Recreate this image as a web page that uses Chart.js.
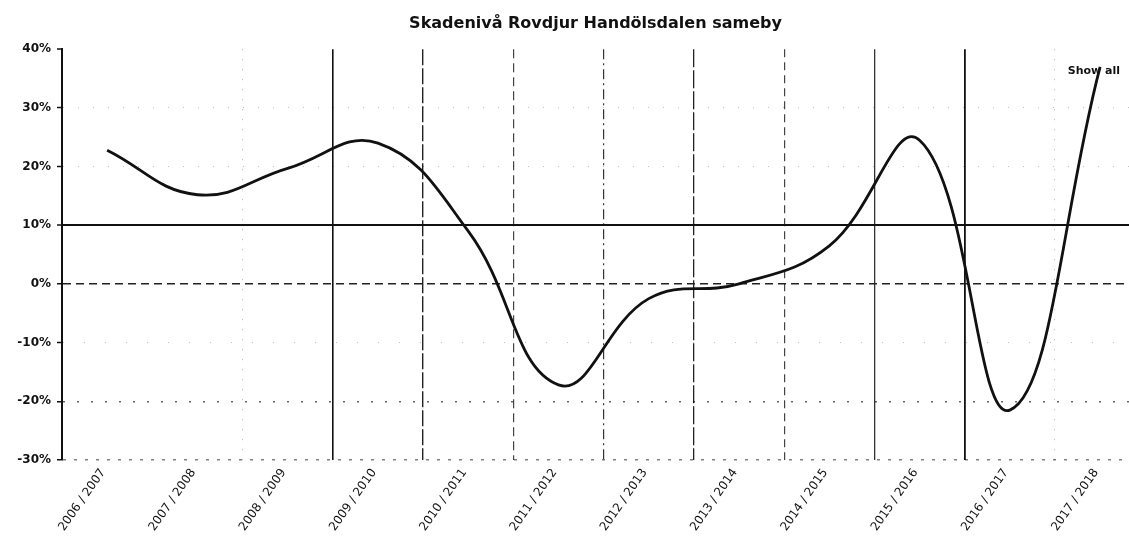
<!DOCTYPE html>
<html>
<head>
<meta charset="utf-8">
<script src="https://cdn.jsdelivr.net/npm/chart.js@4"></script>
<style>
    html, body { margin: 0; padding: 0; background: #fff; }
    #wrap { width: 1129px; height: 539px; }
</style>
</head>
<body>
<div id="wrap"><canvas id="lineChart"></canvas></div>
<script>
// Stagioni (categorie asse x)
var seasons = ["2006 / 2007", "2007 / 2008", "2008 / 2009", "2009 / 2010", "2010 / 2011", "2011 / 2012",
    "2012 / 2013", "2013 / 2014", "2014 / 2015", "2015 / 2016", "2016 / 2017", "2017 / 2018"];

// Skadenivå per stagione (%)
var damageLevel = [22.8, 15.2, 19.7, 24, 9, -17.2, -2.5, 0, 6.5, 24.5, -21.5, 37];

// Tick asse y (%)
var yTicks = [-30, -20, -10, 0, 10, 20, 30, 40];

var font = "'DejaVu Sans', Verdana, sans-serif";

// Stile delle linee verticali (confini tra le stagioni)
var xGridStyle = {
    '1.5': { color: 'rgba(0,0,0,0.3)', width: 1, dash: [1, 9] },
    '2.5': { color: '#111', width: 1.6, dash: [] },
    '3.5': { color: '#222', width: 1.4, dash: [16, 3] },
    '4.5': { color: '#444', width: 1.2, dash: [9, 5] },
    '5.5': { color: '#333', width: 1.2, dash: [10, 4, 2, 4] },
    '6.5': { color: '#222', width: 1.3, dash: [18, 3] },
    '7.5': { color: '#444', width: 1.2, dash: [8, 5] },
    '8.5': { color: '#333', width: 1.3, dash: [] },
    '9.5': { color: '#111', width: 1.8, dash: [] },
    '10.5': { color: 'rgba(0,0,0,0.3)', width: 1, dash: [1, 9] }
};

// Stile delle linee orizzontali
var yGridStyle = {
    '30': { color: 'rgba(0,0,0,0.25)', width: 1, dash: [1, 14] },
    '20': { color: 'rgba(0,0,0,0.25)', width: 1, dash: [1, 14] },
    '10': { color: '#111', width: 2, dash: [] },
    '0': { color: '#222', width: 1.5, dash: [8, 5] },
    '-10': { color: 'rgba(0,0,0,0.25)', width: 1, dash: [1, 20] },
    '-20': { color: 'rgba(0,0,0,0.6)', width: 1.5, dash: [2, 12] },
    '-30': { color: 'rgba(0,0,0,0.5)', width: 1.5, dash: [3, 8] }
};

function styleOf(table, ctx) {
    if (!ctx || !ctx.tick) return null;
    return table[String(ctx.tick.value)] || null;
}

// Testo "Show all" in alto a destra
var showAllPlugin = {
    id: 'showAll',
    afterDraw: function (chart) {
        var c = chart.ctx;
        c.save();
        c.font = "bold 11px " + font;
        c.fillStyle = '#111';
        c.textAlign = 'right';
        c.textBaseline = 'middle';
        c.fillText('Show all', chart.chartArea.right - 9, chart.chartArea.top + 22);
        c.restore();
    }
};

var ctx = document.getElementById('lineChart').getContext('2d');

new Chart(ctx, {
    type: 'line',
    data: {
        datasets: [{
            label: 'Skadenivå',
            data: damageLevel.map(function (v, i) { return { x: i, y: v }; }),
            borderColor: '#111',
            borderWidth: 2.8,
            tension: 0.42,
            pointRadius: 0,
            fill: false
        }]
    },
    options: {
        responsive: true,
        maintainAspectRatio: false,
        animation: false,
        layout: { padding: 0 },
        plugins: {
            legend: { display: false },
            tooltip: { enabled: false },
            title: {
                display: true,
                text: 'Skadenivå Rovdjur Handölsdalen sameby',
                fullSize: false,
                color: '#111',
                font: { family: font, size: 16, weight: 'bold' },
                padding: { top: 14, bottom: 16 }
            }
        },
        scales: {
            x: {
                type: 'linear',
                min: -0.5,
                max: 11.32,
                afterBuildTicks: function (axis) {
                    var t = [];
                    for (var i = 0; i < seasons.length; i++) {
                        t.push({ value: i });
                        if (i < seasons.length - 1) t.push({ value: i + 0.5 });
                    }
                    axis.ticks = t;
                },
                afterFit: function (axis) { axis.height = 79; },
                ticks: {
                    autoSkip: false,
                    minRotation: 55,
                    maxRotation: 55,
                    padding: 6,
                    labelOffset: -4,
                    color: '#111',
                    font: { family: font, size: 12 },
                    callback: function (value) {
                        return Number.isInteger(value) ? seasons[value] : '';
                    }
                },
                grid: {
                    drawTicks: false,
                    color: function (c) { var s = styleOf(xGridStyle, c); return s ? s.color : 'rgba(0,0,0,0)'; },
                    lineWidth: function (c) { var s = styleOf(xGridStyle, c); return s ? s.width : 0; }
                },
                border: {
                    display: false,
                    dash: function (c) { var s = styleOf(xGridStyle, c); return s ? s.dash : []; }
                }
            },
            y: {
                min: -30,
                max: 40,
                afterBuildTicks: function (axis) {
                    axis.ticks = yTicks.map(function (v) { return { value: v }; });
                },
                afterFit: function (axis) { axis.width = 62; },
                ticks: {
                    padding: 6,
                    color: '#111',
                    font: { family: font, size: 12, weight: 'bold' },
                    callback: function (value) { return value + '%'; }
                },
                grid: {
                    tickLength: 5,
                    tickColor: '#111',
                    tickWidth: 1.5,
                    color: function (c) { var s = styleOf(yGridStyle, c); return s ? s.color : 'rgba(0,0,0,0)'; },
                    lineWidth: function (c) { var s = styleOf(yGridStyle, c); return s ? s.width : 0; }
                },
                border: {
                    color: '#111',
                    width: 2,
                    dash: function (c) { var s = styleOf(yGridStyle, c); return s ? s.dash : []; }
                }
            }
        }
    },
    plugins: [showAllPlugin]
});
</script>
</body>
</html>
